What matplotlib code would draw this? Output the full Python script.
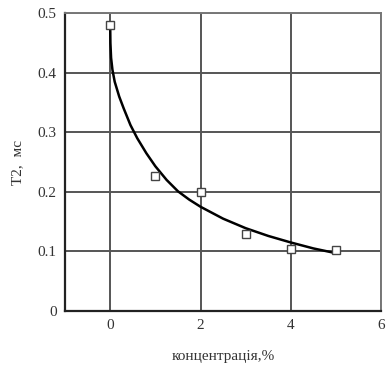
import matplotlib
matplotlib.use("Agg")
import matplotlib.pyplot as plt

# measured points
conc = [0, 1, 2, 3, 4, 5]
t2 = [0.48, 0.226, 0.20, 0.13, 0.104, 0.102]

# fitted curve
curve_x = [0, 0.005, 0.02, 0.05, 0.1, 0.2, 0.3, 0.45, 0.6, 0.8, 1.0,
           1.25, 1.5, 1.75, 2.0, 2.5, 3.0, 3.5, 4.0, 4.5, 5.0]
curve_y = [0.48, 0.45, 0.425, 0.405, 0.385, 0.36, 0.34, 0.312, 0.29, 0.265, 0.243,
           0.22, 0.201, 0.187, 0.175, 0.155, 0.139, 0.126, 0.115, 0.105, 0.097]

xticks = [0, 2, 4, 6]
yticks = [0, 0.1, 0.2, 0.3, 0.4, 0.5]
ytick_labels = ["0", "0.1", "0.2", "0.3", "0.4", "0.5"]

plt.rcParams['font.family'] = ['Liberation Serif', 'DejaVu Serif']

fig = plt.figure(figsize=(3.87, 3.68), dpi=100)
ax = fig.add_axes([0.168, 0.155, 0.817, 0.809])

ax.plot(curve_x, curve_y, color='black', lw=1.8, zorder=3,
        solid_joinstyle='round')
ax.plot(conc, t2, 's', markersize=6, markerfacecolor='white',
        markeredgecolor='#444444', markeredgewidth=1.0, zorder=4)

ax.set_xlim(-1, 6)
ax.set_ylim(0, 0.5)
ax.set_xticks(xticks)
ax.set_yticks(yticks)
ax.set_yticklabels(ytick_labels)
ax.tick_params(length=0, labelsize=11, labelcolor='#333333', pad=6)
ax.grid(True, color='#555555', lw=1.4)
ax.set_axisbelow(True)

for side in ['left', 'bottom']:
        ax.spines[side].set_color('#222222')
        ax.spines[side].set_linewidth(1.6)
for side in ['top', 'right']:
        ax.spines[side].set_color('#777777')
        ax.spines[side].set_linewidth(1.4)

ax.set_xlabel('концентрація,%', fontsize=11, color='#333333', labelpad=13)
ax.set_ylabel('T2,  мс', fontsize=11, color='#333333', labelpad=10)

fig.savefig('out.png', dpi=100)
